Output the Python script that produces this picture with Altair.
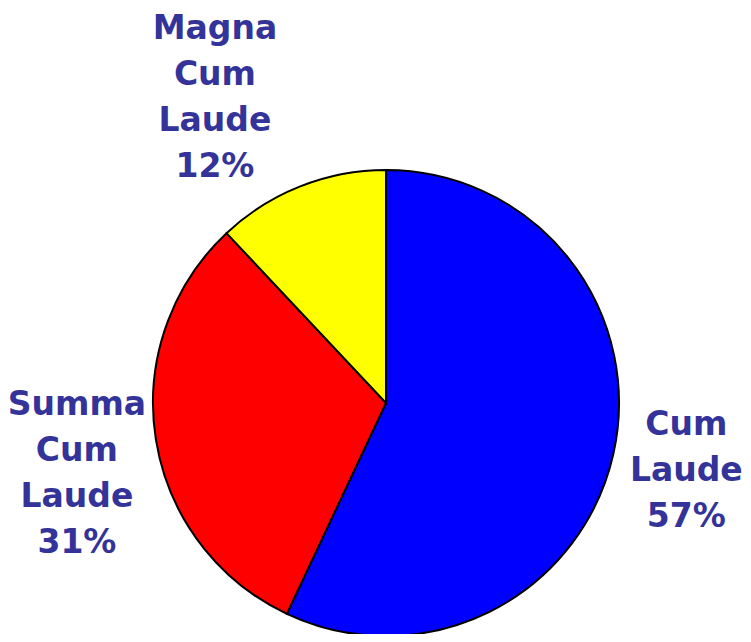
import altair as alt
import pandas as pd

categories = ["Cum Laude", "Summa Cum Laude", "Magna Cum Laude"]
labels = ["Cum\nLaude\n57%", "Summa\nCum\nLaude\n31%", "Magna\nCum\nLaude\n12%"]
values = [57, 31, 12]
order = [1, 2, 3]
colors = ["#0000FF", "#FF0000", "#FFFF00"]

df = pd.DataFrame({"category": categories, "label": labels, "value": values, "order": order})

CX, CY, R = 378, 395, 233

theta = alt.Theta("value:Q", stack=True)
ordr = alt.Order("order:Q")

arc = alt.Chart(df).mark_arc(stroke="black", strokeWidth=2, radius=R).encode(
    theta=theta,
    order=ordr,
    color=alt.Color("category:N", scale=alt.Scale(domain=categories, range=colors), legend=None),
    x=alt.value(CX),
    y=alt.value(CY),
)

offsets = {"Cum Laude": (-10, -47), "Summa Cum Laude": (5, -48), "Magna Cum Laude": (-54, -78)}
layers = [arc]
for cat in categories:
    dx, dy = offsets[cat]
    t = alt.Chart(df).mark_text(
        radius=318, font="DejaVu Sans", fontWeight="bold", fontSize=33,
        color="#333399", lineBreak="\n", lineHeight=46, align="center", baseline="middle",
        dx=dx, dy=dy,
    ).encode(
        theta=theta,
        order=ordr,
        text="label:N",
        x=alt.value(CX),
        y=alt.value(CY),
        opacity=alt.condition(alt.datum.category == cat, alt.value(1), alt.value(0)),
    )
    layers.append(t)

chart = alt.layer(*layers).properties(
    width=735, height=626, padding=0, autosize=alt.AutoSizeParams(type="none")
).configure_view(stroke=None)

chart.save("out.html", embed_options={"renderer": "svg", "actions": False})
